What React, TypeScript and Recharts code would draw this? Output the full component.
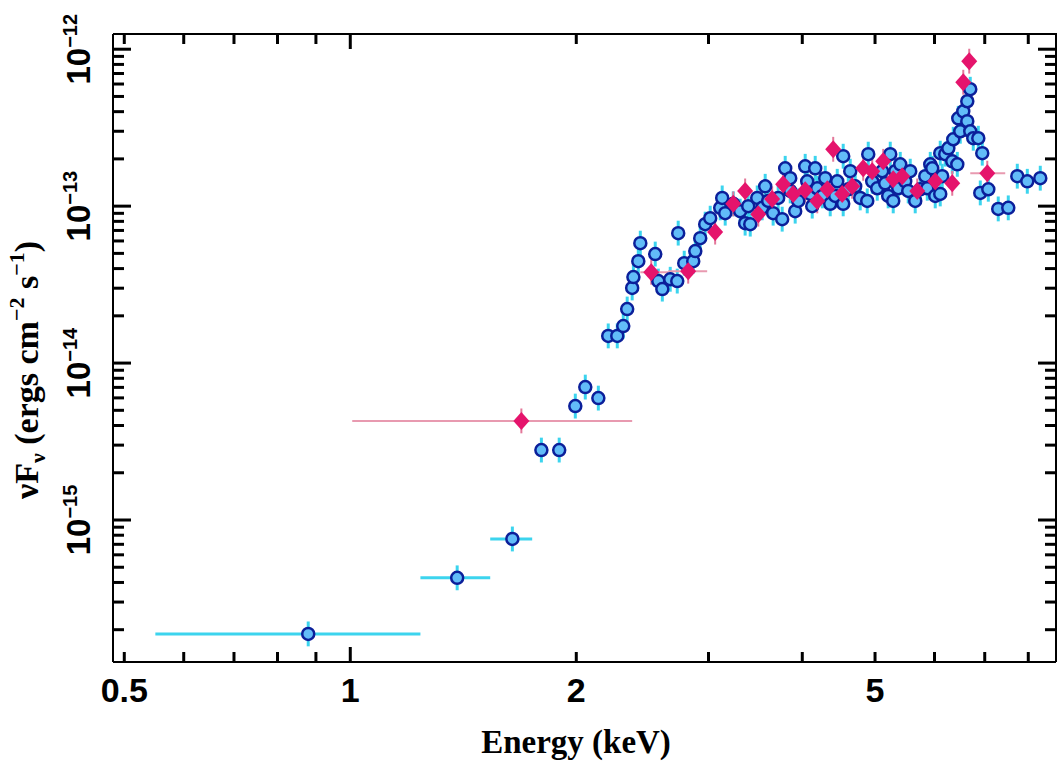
import React from "react";
import { ScatterChart, Scatter, XAxis, YAxis, ErrorBar } from "recharts";

// axis ranges and ticks
const X_DOMAIN = [0.483, 8.71];
const Y_DOMAIN = [1.245e-16, 1.25e-12];
const X_TICKS = [0.5, 0.6, 0.7, 0.8, 0.9, 1, 2, 3, 4, 5, 6, 7, 8];
const X_LABELS = [0.5, 1, 2, 5];
const Y_TICKS = [
  2e-16, 3e-16, 4e-16, 5e-16, 6e-16, 7e-16, 8e-16, 9e-16,
  1e-15, 2e-15, 3e-15, 4e-15, 5e-15, 6e-15, 7e-15, 8e-15, 9e-15,
  1e-14, 2e-14, 3e-14, 4e-14, 5e-14, 6e-14, 7e-14, 8e-14, 9e-14,
  1e-13, 2e-13, 3e-13, 4e-13, 5e-13, 6e-13, 7e-13, 8e-13, 9e-13,
  1e-12,
];
const Y_MAJOR = [1e-15, 1e-14, 1e-13, 1e-12];
const Y_EXP = ["\u221215", "\u221214", "\u221213", "\u221212"];

// blue spectrum: wide low-energy bins
const BLUE_BIN_E = [0.879, 1.388, 1.644];
const BLUE_BIN_F = [1.88e-16, 4.28e-16, 7.57e-16];
const BLUE_BIN_LO = [0.55, 1.24, 1.536];
const BLUE_BIN_HI = [1.24, 1.536, 1.747];

// blue spectrum: remaining channels
const BLUE_E = [
  1.797, 1.898, 1.994, 2.056, 2.14, 2.206, 2.268, 2.31, 2.338, 2.374,
  2.383, 2.419, 2.434, 2.548, 2.572, 2.604, 2.668, 2.726, 2.734, 2.785,
  2.863, 2.881, 2.925, 2.97, 3.016, 3.11, 3.129, 3.158, 3.237, 3.306,
  3.357, 3.389, 3.41, 3.484, 3.537, 3.57, 3.603, 3.658, 3.715, 3.761,
  3.796, 3.855, 3.855, 3.914, 3.951, 4.036, 4.061, 4.099, 4.124, 4.162,
  4.188, 4.253, 4.292, 4.358, 4.425, 4.453, 4.535, 4.535, 4.606, 4.634,
  4.705, 4.778, 4.882, 4.897, 4.957, 5.034, 5.111, 5.158, 5.206, 5.239,
  5.287, 5.32, 5.369, 5.402, 5.485, 5.536, 5.57, 5.656, 5.744, 5.833,
  5.869, 5.923, 5.959, 6.014, 6.107, 6.107, 6.144, 6.201, 6.26, 6.336,
  6.356, 6.435, 6.454, 6.494, 6.554, 6.635, 6.635, 6.696, 6.696, 6.758,
  6.863, 6.905, 6.947, 7.077, 7.296, 7.524, 7.735, 7.976, 8.3,
];
const BLUE_F = [
  2.79e-15, 2.79e-15, 5.32e-15, 7.03e-15, 5.98e-15, 1.49e-14, 1.49e-14, 1.72e-14, 2.21e-14, 3.01e-14,
  3.53e-14, 4.46e-14, 5.81e-14, 4.95e-14, 3.33e-14, 2.96e-14, 3.42e-14, 3.33e-14, 6.73e-14, 4.33e-14,
  4.46e-14, 5.17e-14, 6.25e-14, 7.68e-14, 8.38e-14, 9.75e-14, 1.128e-13, 9.02e-14, 1.034e-13, 9.29e-14,
  7.79e-14, 1.0e-13, 7.68e-14, 1.128e-13, 9.75e-14, 1.338e-13, 1.08e-13, 9.02e-14, 1.128e-13, 8.26e-14,
  1.742e-13, 1.507e-13, 1.25e-13, 9.29e-14, 1.08e-13, 1.794e-13, 1.44e-13, 1.196e-13, 1.0e-13, 1.742e-13,
  1.3e-13, 1.162e-13, 1.507e-13, 1.034e-13, 1.162e-13, 1.44e-13, 2.08e-13, 1.034e-13, 1.281e-13, 1.67e-13,
  1.338e-13, 1.128e-13, 1.08e-13, 2.144e-13, 1.44e-13, 1.3e-13, 1.67e-13, 1.398e-13, 1.162e-13, 2.144e-13,
  1.08e-13, 1.67e-13, 1.3e-13, 1.847e-13, 1.44e-13, 1.25e-13, 1.67e-13, 1.08e-13, 1.281e-13, 1.552e-13,
  1.3e-13, 1.847e-13, 1.742e-13, 1.162e-13, 2.175e-13, 1.196e-13, 1.552e-13, 2.144e-13, 2.337e-13, 1.93e-13,
  2.668e-13, 1.847e-13, 3.628e-13, 3.0e-13, 4.02e-13, 4.66e-13, 3.48e-13, 5.558e-13, 3.0e-13, 2.708e-13,
  2.708e-13, 1.214e-13, 2.175e-13, 1.281e-13, 9.6e-14, 9.75e-14, 1.552e-13, 1.44e-13, 1.507e-13,
];

// pink spectrum: wide bins
const PINK_BIN_E = [1.69, 2.517, 2.819, 7.055];
const PINK_BIN_F = [4.28e-15, 3.79e-14, 3.85e-14, 1.622e-13];
const PINK_BIN_LO = [1.006, 2.434, 2.652, 6.696];
const PINK_BIN_HI = [2.374, 2.652, 2.988, 7.454];

// pink spectrum: remaining channels
const PINK_E = [
  3.062, 3.237, 3.357, 3.495, 3.647, 3.772, 3.89, 4.036, 4.188, 4.319,
  4.398, 4.521, 4.662, 4.822, 4.957, 5.127, 5.287, 5.435, 5.691, 6.014,
  6.336, 6.554, 6.675,
];
const PINK_F = [
  6.83e-14, 1.034e-13, 1.25e-13, 8.89e-14, 1.112e-13, 1.378e-13, 1.196e-13, 1.262e-13, 1.08e-13, 1.281e-13,
  2.303e-13, 1.196e-13, 1.338e-13, 1.742e-13, 1.67e-13, 1.93e-13, 1.485e-13, 1.552e-13, 1.25e-13, 1.44e-13,
  1.398e-13, 6.16e-13, 8.39e-13,
];

const REL_ERR = 0.2;

const W = 1057;
const H = 772;
const PLOT_LEFT = 113;
const PLOT_TOP = 34;
const PLOT_RIGHT = 1056;
const PLOT_BOTTOM = 662;

const yErr = (f: number) => [f - f / (1 + REL_ERR), f * REL_ERR];

const blueData = [
  ...BLUE_BIN_E.map((e, i) => ({
    x: e, y: BLUE_BIN_F[i], yErr: yErr(BLUE_BIN_F[i]),
    xErr: [e - BLUE_BIN_LO[i], BLUE_BIN_HI[i] - e],
  })),
  ...BLUE_E.map((e, i) => ({ x: e, y: BLUE_F[i], yErr: yErr(BLUE_F[i]) })),
];

const pinkData = [
  ...PINK_BIN_E.map((e, i) => ({
    x: e, y: PINK_BIN_F[i], yErr: yErr(PINK_BIN_F[i]),
    xErr: [e - PINK_BIN_LO[i], PINK_BIN_HI[i] - e],
  })),
  ...PINK_E.map((e, i) => ({ x: e, y: PINK_F[i], yErr: yErr(PINK_F[i]) })),
];

const isYMajor = (v: number) => Y_MAJOR.findIndex((m) => Math.abs(m - v) / m < 1e-6);

// frame tick marks on the four edges, placed through the chart scales
const tickMarks = [
  ...X_TICKS.flatMap((v) => [
    { x: v, y: Y_DOMAIN[0], edge: "bottom", major: v === 1 },
    { x: v, y: Y_DOMAIN[1], edge: "top", major: v === 1 },
  ]),
  ...Y_TICKS.flatMap((v) => [
    { x: X_DOMAIN[0], y: v, edge: "left", major: isYMajor(v) >= 0 },
    { x: X_DOMAIN[1], y: v, edge: "right", major: isYMajor(v) >= 0 },
  ]),
];

const SANS = "'Liberation Sans', Arial, Helvetica, sans-serif";
const SERIF = "'Liberation Serif', 'Times New Roman', serif";

const XTick = (props: any) => {
  const { x, payload } = props;
  const v = payload.value;
  if (!X_LABELS.includes(v)) return <g />;
  return (
    <text x={x} y={PLOT_BOTTOM + 40} textAnchor="middle" fontFamily={SANS} fontWeight="bold" fontSize={34} fill="#000">
      {v}
    </text>
  );
};

const YTick = (props: any) => {
  const { y, payload } = props;
  const mi = isYMajor(payload.value);
  if (mi < 0) return <g />;
  const lx = PLOT_LEFT - 23;
  return (
    <text
      x={lx}
      y={y}
      transform={`rotate(-90 ${lx} ${y})`}
      textAnchor="middle"
      fontFamily={SANS}
      fontWeight="bold"
      fontSize={33}
      fill="#000"
    >
      10
      <tspan fontSize={20} dy={-13}>{Y_EXP[mi]}</tspan>
    </text>
  );
};

const TickMark = (p: any) => {
  const d = p.payload ?? p;
  const { cx, cy } = p;
  const vertical = d.edge === "bottom" || d.edge === "top";
  const len = vertical ? (d.major ? 15 : 10) : d.major ? 18 : 11;
  let path = "";
  if (d.edge === "bottom") path = `M${cx},${cy}V${cy - len}`;
  else if (d.edge === "top") path = `M${cx},${cy}V${cy + len}`;
  else if (d.edge === "left") path = `M${cx},${cy}H${cx + len}`;
  else path = `M${cx},${cy}H${cx - len}`;
  return <path d={path} stroke="#000" strokeWidth={3} fill="none" />;
};

const BlueDot = (p: any) => (
  <circle cx={p.cx} cy={p.cy} r={6} fill="#62bcf8" stroke="#0b1f9a" strokeWidth={2.5} />
);

const PinkDiamond = (p: any) => (
  <path
    d={`M${p.cx},${p.cy - 9} L${p.cx + 8},${p.cy} L${p.cx},${p.cy + 9} L${p.cx - 8},${p.cy} Z`}
    fill="#e5146c"
  />
);

export default function App() {
  return (
    <div style={{ position: "absolute", left: 0, top: 0, width: W, height: H, background: "#fff" }}>
      <ScatterChart width={W} height={H} margin={{ top: PLOT_TOP, right: W - PLOT_RIGHT, bottom: 0, left: 0 }}>
        <XAxis
          type="number"
          dataKey="x"
          scale="log"
          domain={X_DOMAIN}
          allowDataOverflow
          ticks={X_TICKS}
          interval={0}
          height={H - PLOT_BOTTOM}
          tickSize={0}
          tickMargin={0}
          tickLine={false}
          axisLine={{ stroke: "#000", strokeWidth: 2 }}
          tick={<XTick />}
        />
        <YAxis
          type="number"
          dataKey="y"
          scale="log"
          domain={Y_DOMAIN}
          allowDataOverflow
          ticks={Y_TICKS}
          interval={0}
          width={PLOT_LEFT}
          tickSize={0}
          tickMargin={0}
          tickLine={false}
          axisLine={{ stroke: "#000", strokeWidth: 2 }}
          tick={<YTick />}
        />
        <Scatter data={blueData} shape={<BlueDot />} isAnimationActive={false}>
          <ErrorBar dataKey="xErr" direction="x" stroke="#3cd4ee" strokeWidth={3} width={0} isAnimationActive={false} />
          <ErrorBar dataKey="yErr" direction="y" stroke="#3cd4ee" strokeWidth={3} width={0} isAnimationActive={false} />
        </Scatter>
        <Scatter data={pinkData} shape={<PinkDiamond />} isAnimationActive={false}>
          <ErrorBar dataKey="xErr" direction="x" stroke="#e89ab0" strokeWidth={2} width={0} isAnimationActive={false} />
          <ErrorBar dataKey="yErr" direction="y" stroke="#e3789a" strokeWidth={2} width={0} isAnimationActive={false} />
        </Scatter>
        <Scatter data={tickMarks} shape={<TickMark />} isAnimationActive={false} />
      </ScatterChart>
      <svg width={W} height={H} style={{ position: "absolute", left: 0, top: 0, pointerEvents: "none" }}>
        <path
          d={`M${PLOT_LEFT},${PLOT_TOP}H${PLOT_RIGHT}V${PLOT_BOTTOM}`}
          fill="none"
          stroke="#000"
          strokeWidth={2}
        />
        <text x={576} y={753} textAnchor="middle" fontFamily={SERIF} fontWeight="bold" fontSize={33} fill="#000">
          Energy (keV)
        </text>
        <text
          x={38}
          y={370}
          transform="rotate(-90 38 370)"
          textAnchor="middle"
          fontFamily={SERIF}
          fontWeight="bold"
          fontSize={34}
          fill="#000"
        >
          νF<tspan fontSize={22} dy={7}>ν</tspan>
          <tspan dy={-7}> (ergs cm</tspan>
          <tspan fontSize={22} dy={-14}>−2</tspan>
          <tspan dy={14}> s</tspan>
          <tspan fontSize={22} dy={-14}>−1</tspan>
          <tspan dy={14}>)</tspan>
        </text>
      </svg>
    </div>
  );
}
